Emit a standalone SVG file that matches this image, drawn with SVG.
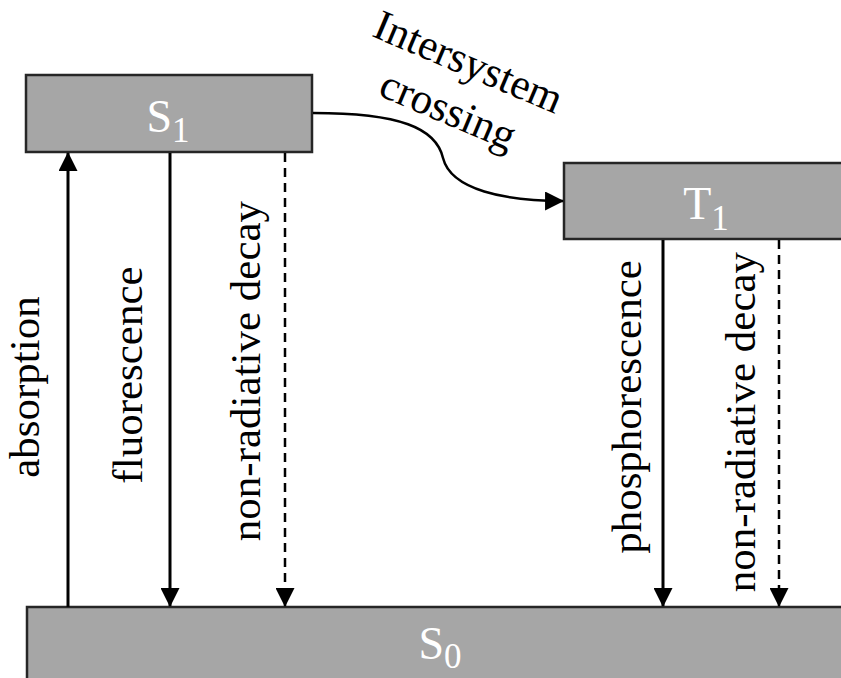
<svg xmlns="http://www.w3.org/2000/svg" width="841" height="678" viewBox="0 0 841 678">
<defs>
<style>
.box{fill:#a6a6a6;stroke:#262626;stroke-width:2.5}
.lbl{fill:#ffffff;text-anchor:middle}
.txt{fill:#000;font-size:43px;text-anchor:middle}
.ln{stroke:#000;stroke-width:3;fill:none}
.dash{stroke-width:2.5;stroke-dasharray:9,6}
</style>
<marker id="ah" markerUnits="userSpaceOnUse" markerWidth="19" markerHeight="19" viewBox="0 0 18 18" refX="17" refY="9" orient="auto">
<path d="M0,0 L18,9 L0,18 z" fill="#000"/>
</marker>
</defs>
<rect width="841" height="678" fill="#fff"/>
<g font-family="Liberation Serif, serif">
<g id="S1">
<rect class="box" x="26" y="75" width="286" height="77"/>
<text class="lbl" x="168" y="132" font-size="46">S<tspan font-size="35" dy="10">1</tspan></text>
</g>
<g id="T1">
<rect class="box" x="564" y="163" width="290" height="76"/>
<text class="lbl" x="706" y="219" font-size="46">T<tspan font-size="35" dy="11">1</tspan></text>
</g>
<g id="S0">
<rect class="box" x="27" y="607" width="830" height="90"/>
<text class="lbl" x="440" y="659" font-size="46">S<tspan font-size="35" dy="9">0</tspan></text>
</g>
<g id="connectors">
<line class="ln" x1="68" y1="607" x2="68" y2="153" marker-end="url(#ah)"/>
<line class="ln" x1="170" y1="153" x2="170" y2="606" marker-end="url(#ah)"/>
<line class="ln dash" x1="285" y1="153" x2="285" y2="606" marker-end="url(#ah)"/>
<line class="ln" x1="663" y1="240" x2="663" y2="606" marker-end="url(#ah)"/>
<line class="ln dash" x1="779" y1="240" x2="779" y2="606" marker-end="url(#ah)"/>
<path class="ln" style="stroke-width:2.5" d="M313,113 C400,113 436,128 443,158 C451,190 505,201 563,201" marker-end="url(#ah)"/>
</g>
<g id="labels">
<text class="txt" transform="translate(39,387) rotate(-90)">absorption</text>
<text class="txt" transform="translate(142,375) rotate(-90)">fluorescence</text>
<text class="txt" transform="translate(260,371) rotate(-90)">non-radiative decay</text>
<text class="txt" transform="translate(641,407) rotate(-90)">phosphorescence</text>
<text class="txt" transform="translate(755,422) rotate(-90)">non-radiative decay</text>
<g transform="translate(463,75) rotate(23)">
<text class="txt" x="0" y="0">Intersystem</text>
<text class="txt" x="0" y="52">crossing</text>
</g>
</g>
</g>
</svg>
